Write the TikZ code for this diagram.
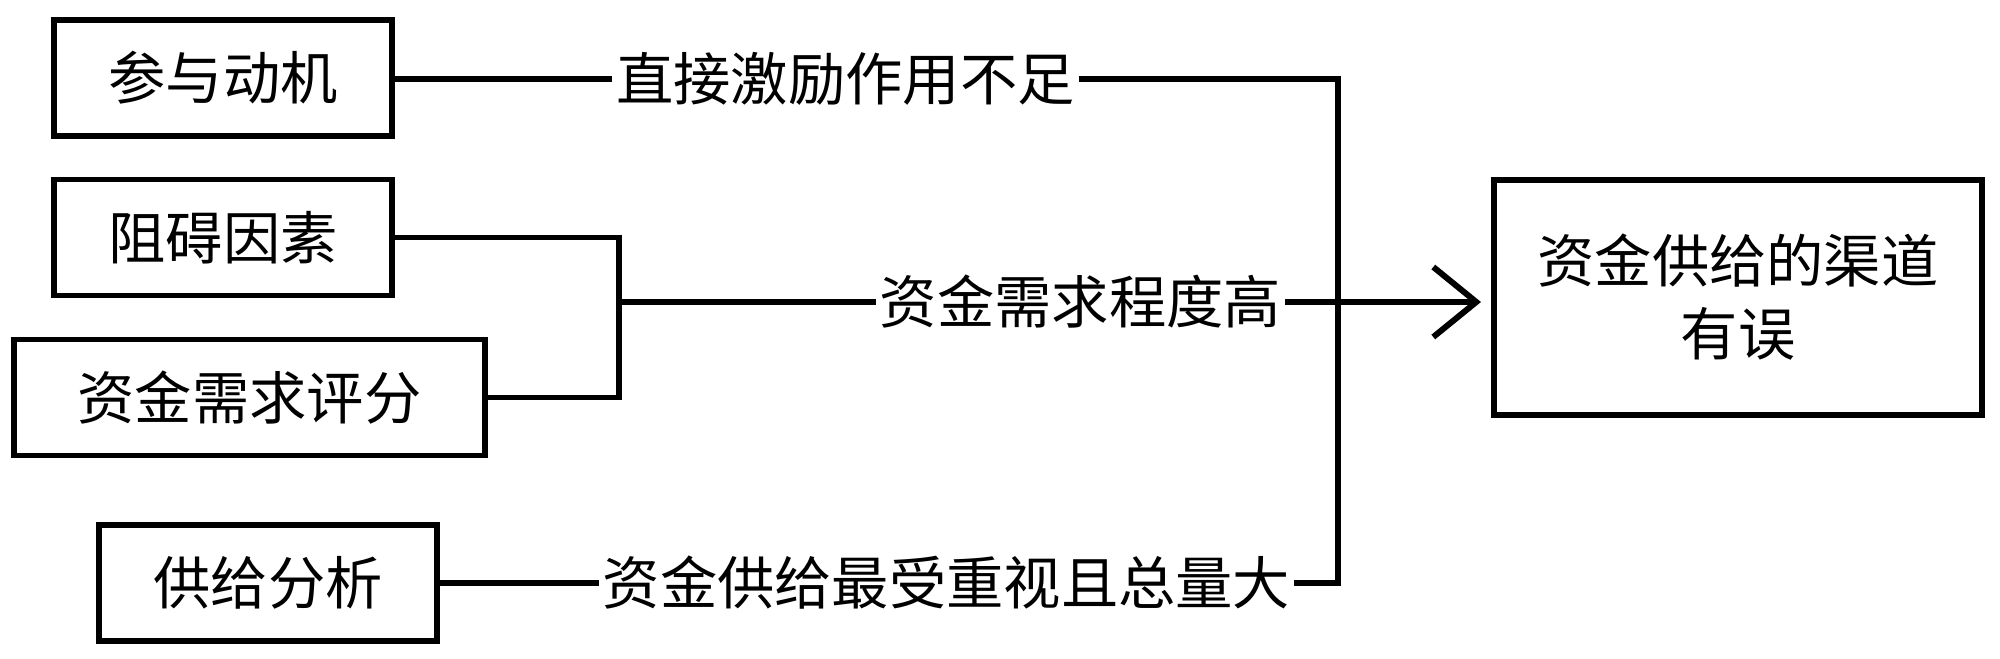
\documentclass[tikz,border=0pt]{standalone}
\usepackage{fontspec}
\setmainfont{Noto Sans CJK SC}
\usepackage{tikz}
\usetikzlibrary{positioning,arrows.meta}

\begin{document}
\begin{tikzpicture}[font=\fontsize{16.3pt}{20.8pt}\selectfont,
  bx/.style={draw, line width=1.7pt, align=center, minimum height=1.16cm, inner sep=2pt},
  lbl/.style={inner xsep=1pt, inner ysep=2pt},
  link/.style={line width=1.7pt},
  flow/.style={line width=1.7pt, -{Straight Barb[length=4.3mm, width=7mm, line width=1.7pt]}, shorten >=1mm}]
\useasboundingbox (0,0) rectangle (20,-6.58);
% ===== left: causes =====
\node[bx, minimum width=3.38cm] (mot) at (2.23,-0.78) {参与动机};
\node[bx, minimum width=3.38cm] (obs) at (2.23,-2.375) {阻碍因素};
\node[bx, minimum width=4.71cm] (dem) at (2.495,-3.975) {资金需求评分};
\node[bx, minimum width=3.38cm] (sup) at (2.68,-5.83) {供给分析};
% ===== right: result =====
\node[bx, minimum width=4.88cm, minimum height=2.35cm] (res) at (17.38,-2.975) {资金供给的渠道\\有误};
% ===== labels on the lines =====
\node[lbl] (l1) at (8.455,-0.79) {直接激励作用不足};
\node[lbl] (l2) at (10.805,-3.02) {资金需求程度高};
\node[lbl] (l3) at (9.465,-5.83) {资金供给最受重视且总量大};
\coordinate (jn) at (6.19,-3.02);
\coordinate (bb) at (13.38,-5.83);
% ===== connectors =====
\draw[link] (mot.east |- l1) -- (l1);
\draw[link] (l1.east) -| (bb) -- (l3.east);
\draw[link] (sup) -- (l3);
\draw[link] (obs.east) -| (jn) |- (dem.east);
\draw[link] (jn) -- (l2);
\draw[flow] (l2) -- (l2 -| res.west);
\end{tikzpicture}
\end{document}
